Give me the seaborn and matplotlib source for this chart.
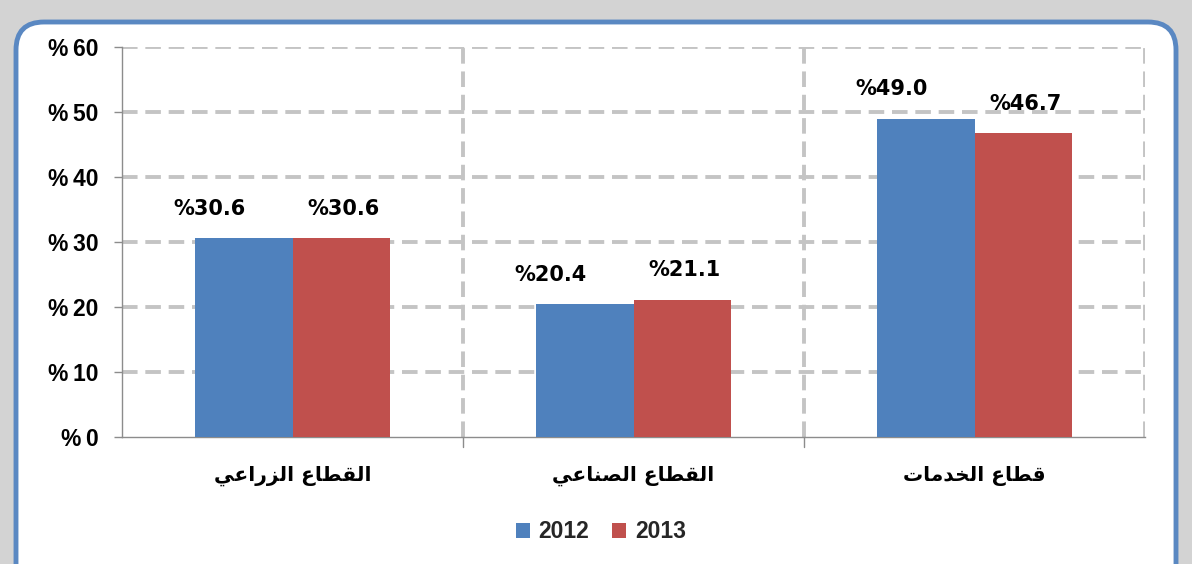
import matplotlib
matplotlib.use("Agg")
import matplotlib.pyplot as plt
import matplotlib.transforms as mtransforms
from matplotlib.patches import FancyBboxPatch
import seaborn as sns
import pandas as pd

sectors = ["القطاع الزراعي", "القطاع الصناعي", "قطاع الخدمات"]
years = ["2012", "2013"]
values_2012 = [30.6, 20.4, 49.0]
values_2013 = [30.6, 21.1, 46.7]
yticks = [0, 10, 20, 30, 40, 50, 60]

BLUE = "#4F81BD"
RED = "#C0504D"

FORMS = {
    'ا': ('\uFE8D', '\uFE8E', None, None),
    'ل': ('\uFEDD', '\uFEDE', '\uFEDF', '\uFEE0'),
    'ق': ('\uFED5', '\uFED6', '\uFED7', '\uFED8'),
    'ط': ('\uFEC1', '\uFEC2', '\uFEC3', '\uFEC4'),
    'ع': ('\uFEC9', '\uFECA', '\uFECB', '\uFECC'),
    'ز': ('\uFEAF', '\uFEB0', None, None),
    'ر': ('\uFEAD', '\uFEAE', None, None),
    'ي': ('\uFEF1', '\uFEF2', '\uFEF3', '\uFEF4'),
    'ص': ('\uFEB9', '\uFEBA', '\uFEBB', '\uFEBC'),
    'ن': ('\uFEE5', '\uFEE6', '\uFEE7', '\uFEE8'),
    'خ': ('\uFEA5', '\uFEA6', '\uFEA7', '\uFEA8'),
    'د': ('\uFEA9', '\uFEAA', None, None),
    'م': ('\uFEE1', '\uFEE2', '\uFEE3', '\uFEE4'),
    'ت': ('\uFE95', '\uFE96', '\uFE97', '\uFE98'),
}


def shape(s):
    out = []
    for i, ch in enumerate(s):
        f = FORMS.get(ch)
        if f is None:
            out.append(ch)
            continue
        prev = s[i - 1] if i > 0 else ''
        nxt = s[i + 1] if i + 1 < len(s) else ''
        pj = prev in FORMS and FORMS[prev][2] is not None
        nj = nxt in FORMS and f[2] is not None
        if pj and nj:
            out.append(f[3])
        elif pj:
            out.append(f[1])
        elif nj:
            out.append(f[2])
        else:
            out.append(f[0])
    return ''.join(reversed(out))


df = pd.DataFrame({
    "sector": sectors * 2,
    "year": [years[0]] * 3 + [years[1]] * 3,
    "value": values_2012 + values_2013,
})

sns.set_theme(style="white")
plt.rcParams['font.family'] = ['Liberation Sans', 'DejaVu Sans']

W, H = 1192, 564
fig = plt.figure(figsize=(W / 100, H / 100), dpi=100, facecolor="#D3D3D3")

box = FancyBboxPatch((16, -30), 1160, H - 22 + 30,
                     boxstyle="round,pad=0,rounding_size=28",
                     transform=mtransforms.IdentityTransform(),
                     facecolor="white", edgecolor="#5A88C2", linewidth=3.5,
                     zorder=-10)
fig.patches.append(box)

ax = fig.add_axes([122 / W, 1 - 437 / H, (1145 - 122) / W, (437 - 47) / H])
ax.set_facecolor("none")

sns.barplot(data=df, x="sector", y="value", hue="year", order=sectors,
            hue_order=years, palette=[BLUE, RED], saturation=1, width=0.57,
            linewidth=0, ax=ax, zorder=3)

ax.set_xlim(-0.5, 2.5)
ax.set_ylim(0, 60)
ax.set_yticks(yticks)
ax.set_yticklabels([f"%\u2009{v}" for v in yticks], fontsize=16.5,
                   fontweight="bold", color="black")
ax.set_xticks([0, 1, 2])
ax.set_xticklabels([shape(s) for s in sectors], fontsize=14.5,
                   fontweight="bold", family=["DejaVu Sans"], color="black")
ax.tick_params(axis="x", length=0, pad=21)
ax.tick_params(axis="y", length=6, width=1, color="#8C8C8C", direction="out",
               pad=11, left=True)
ax.set_xlabel("")
ax.set_ylabel("")

# grid lines
for y in yticks[1:]:
    ax.axhline(y, color="#C4C4C4", lw=2.8, ls=(0, (4, 2)), zorder=1)
for x in [0.5, 1.5, 2.5]:
    ax.axvline(x, color="#C4C4C4", lw=2.8, ls=(0, (4, 2)), zorder=1)
for x in [0.5, 1.5]:
    ax.plot([x, x], [0, -0.025], transform=ax.get_xaxis_transform(),
            color="#8C8C8C", lw=1, clip_on=False)

for side in ["top", "right"]:
    ax.spines[side].set_visible(False)
for side in ["left", "bottom"]:
    ax.spines[side].set_color("#8C8C8C")
    ax.spines[side].set_linewidth(1)

# value labels
for container, dx in zip(ax.containers, [-25, 2]):
    for bar in container:
        v = bar.get_height()
        ax.annotate(f"%{v:.1f}", (bar.get_x() + bar.get_width() / 2, v),
                    xytext=(dx, 14), textcoords="offset points",
                    ha="center", va="bottom", fontsize=15, fontweight="bold",
                    family=["DejaVu Sans"], color="black", zorder=5)

handles, labels = ax.get_legend_handles_labels()
if ax.get_legend() is not None:
    ax.get_legend().remove()
fig.legend(handles, labels, loc="center", bbox_to_anchor=(601 / W, 1 - 532 / H),
           ncol=2, frameon=False, prop={"weight": "bold", "size": 16.5},
           handlelength=0.6, handleheight=0.6, handletextpad=0.4, columnspacing=1.0)

fig.savefig("out.png", dpi=100, facecolor=fig.get_facecolor())
